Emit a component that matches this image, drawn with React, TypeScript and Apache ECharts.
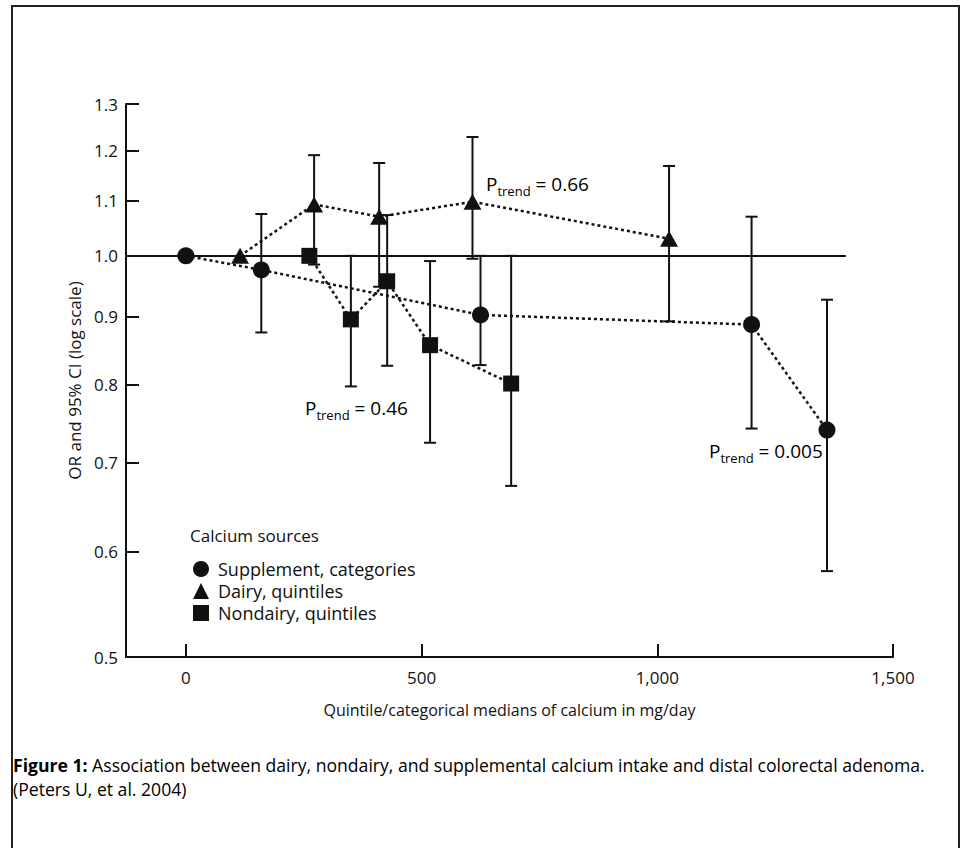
import React, { useEffect, useRef } from "react";
import * as echarts from "echarts";

const FONT = "'Open Sans', 'DejaVu Sans', sans-serif";
const INK = "#111";

// Axis ticks
const X_TICKS = [0, 500, 1000, 1500];
const Y_TICKS = [0.5, 0.6, 0.7, 0.8, 0.9, 1.0, 1.1, 1.2, 1.3];
const X_MIN = -127;
const X_MAX = 1500;
const REF_OR = 1.0;
const REF_LINE_END = 1400;

// Supplement, categories
const SUPP_X = [0, 160, 625, 1200, 1360];
const SUPP_OR = [1.0, 0.976, 0.903, 0.888, 0.74];
const SUPP_LO = [null, 0.876, 0.828, 0.742, 0.58];
const SUPP_HI = [null, 1.075, 1.0, 1.07, 0.927];

// Dairy, quintiles
const DAIRY_X = [115, 272, 410, 608, 1025];
const DAIRY_OR = [1.0, 1.093, 1.07, 1.098, 1.03];
const DAIRY_LO = [null, 0.985, 0.948, 0.995, 0.893];
const DAIRY_HI = [null, 1.19, 1.174, 1.228, 1.168];

// Nondairy, quintiles
const NOND_X = [262, 350, 427, 518, 690];
const NOND_OR = [1.0, 0.896, 0.957, 0.857, 0.802];
const NOND_LO = [null, 0.798, 0.827, 0.724, 0.672];
const NOND_HI = [null, 1.0, 1.073, 0.991, 1.0];

const SERIES_NAMES = ["Supplement, categories", "Dairy, quintiles", "Nondairy, quintiles"];
const SYMBOLS = ["circle", "triangle", "rect"];
const SYMBOL_SIZES: any[] = [17, [18, 16], 16];

const P_TRENDS = ["0.005", "0.66", "0.46"];

const lg = (v: number) => Math.log10(v);

function pointData(xs: number[], ors: number[]) {
  return xs.map((x, i) => [x, lg(ors[i])]);
}
function barData(xs: number[], lo: (number | null)[], hi: (number | null)[]) {
  const out: number[][] = [];
  xs.forEach((x, i) => {
    if (lo[i] != null && hi[i] != null) out.push([x, lg(lo[i] as number), lg(hi[i] as number)]);
  });
  return out;
}

function errorSeries(data: number[][]) {
  return {
    type: "custom",
    z: 1,
    silent: true,
    data,
    encode: { x: 0, y: [1, 2] },
    renderItem: (_p: any, api: any) => {
      const x = api.value(0);
      const a = api.coord([x, api.value(1)]);
      const b = api.coord([x, api.value(2)]);
      const hw = 6;
      const st = { stroke: INK, lineWidth: 2 };
      return {
        type: "group",
        children: [
          { type: "line", shape: { x1: a[0], y1: a[1], x2: b[0], y2: b[1] }, style: st },
          { type: "line", shape: { x1: a[0] - hw, y1: a[1], x2: a[0] + hw, y2: a[1] }, style: st },
          { type: "line", shape: { x1: b[0] - hw, y1: b[1], x2: b[0] + hw, y2: b[1] }, style: st },
        ],
      };
    },
  };
}

function lineSeries(idx: number, data: number[][], extra: any = {}) {
  return {
    type: "line",
    name: SERIES_NAMES[idx],
    data,
    z: 3,
    symbol: SYMBOLS[idx],
    symbolSize: SYMBOL_SIZES[idx],
    itemStyle: { color: INK },
    lineStyle: { color: INK, width: 2.5, type: [3, 3] },
    ...extra,
  };
}

function pText(val: string) {
  return `{p|P}{s|trend}{t| = ${val}}`;
}
const pRich = {
  p: { fontSize: 19, fontFamily: FONT, color: INK, lineHeight: 28 },
  s: { fontSize: 13, fontFamily: FONT, color: INK, lineHeight: 14, verticalAlign: "bottom" },
  t: { fontSize: 19, fontFamily: FONT, color: INK, lineHeight: 28 },
};

export default function App() {
  const ref = useRef<HTMLDivElement>(null);
  useEffect(() => {
    const chart = echarts.init(ref.current!, null, { renderer: "svg" });
    const option: any = {
      animation: false,
      backgroundColor: "#fff",
      textStyle: { fontFamily: FONT, color: INK },
      grid: { left: 126, right: 69, top: 104, bottom: 191, containLabel: false },
      xAxis: {
        type: "value",
        min: X_MIN,
        max: X_MAX,
        name: "Quintile/categorical medians of calcium in mg/day",
        nameLocation: "middle",
        nameGap: 45,
        nameTextStyle: { fontSize: 16, color: INK, fontFamily: FONT },
        axisLine: { show: true, onZero: false, lineStyle: { color: INK, width: 2 } },
        axisTick: { show: true, inside: true, length: 13, lineStyle: { color: INK, width: 2 }, customValues: X_TICKS },
        axisLabel: {
          customValues: X_TICKS,
          margin: 12,
          fontSize: 17,
          color: INK,
          fontFamily: FONT,
          formatter: (v: number) => Math.round(v).toLocaleString("en-US"),
        },
        splitLine: { show: false },
      },
      yAxis: {
        type: "value",
        min: lg(Y_TICKS[0]),
        max: lg(Y_TICKS[Y_TICKS.length - 1]),
        name: "OR and 95% CI (log scale)",
        nameLocation: "middle",
        nameGap: 41,
        nameRotate: 90,
        nameTextStyle: { fontSize: 17, color: INK, fontFamily: FONT },
        axisLine: { show: true, onZero: false, lineStyle: { color: INK, width: 2 } },
        axisTick: { show: true, inside: true, length: 13, lineStyle: { color: INK, width: 2 }, customValues: Y_TICKS.map(lg) },
        axisLabel: {
          customValues: Y_TICKS.map(lg),
          margin: 8,
          fontSize: 17,
          color: INK,
          fontFamily: FONT,
          formatter: (v: number) => Math.pow(10, v).toFixed(1),
        },
        splitLine: { show: false },
      },
      legend: {
        show: true,
        orient: "vertical",
        left: 188,
        top: 555,
        itemWidth: 16,
        itemHeight: 16,
        itemGap: 4,
        selectedMode: false,
        textStyle: { fontSize: 18, color: INK, fontFamily: FONT, padding: [0, 0, 0, 4] },
        data: SERIES_NAMES.map((n, i) => ({ name: n, icon: SYMBOLS[i] })),
      },
      series: [
        errorSeries(barData(SUPP_X, SUPP_LO, SUPP_HI)),
        errorSeries(barData(DAIRY_X, DAIRY_LO, DAIRY_HI)),
        errorSeries(barData(NOND_X, NOND_LO, NOND_HI)),
        lineSeries(0, pointData(SUPP_X, SUPP_OR), {
          markLine: {
            silent: true,
            symbol: "none",
            label: { show: false },
            lineStyle: { color: INK, width: 2, type: "solid" },
            data: [[{ coord: [X_MIN, lg(REF_OR)] }, { coord: [REF_LINE_END, lg(REF_OR)] }]],
          },
        }),
        lineSeries(1, pointData(DAIRY_X, DAIRY_OR)),
        lineSeries(2, pointData(NOND_X, NOND_OR)),
      ],
      graphic: [
        {
          type: "rect",
          silent: true,
          shape: { x: 12, y: 6, width: 947, height: 900 },
          style: { fill: "none", stroke: "#222", lineWidth: 2 },
        },
        {
          type: "text",
          left: 190,
          top: 527,
          style: { text: "Calcium sources", fontSize: 17, fontFamily: FONT, fill: INK },
        },
        { type: "text", left: 709, top: 441, style: { text: pText(P_TRENDS[0]), rich: pRich } },
        { type: "text", left: 486, top: 174, style: { text: pText(P_TRENDS[1]), rich: pRich } },
        { type: "text", left: 305, top: 398, style: { text: pText(P_TRENDS[2]), rich: pRich } },
        {
          type: "text",
          left: 13,
          top: 756,
          style: {
            text:
              "{b|Figure 1:}{n| Association between dairy, nondairy, and supplemental calcium intake and distal colorectal adenoma.}\n{n|(Peters U, et al. 2004)}",
            rich: {
              b: { fontSize: 17.6, fontWeight: "bold", fontFamily: FONT, color: INK, lineHeight: 24 },
              n: { fontSize: 17.6, fontFamily: FONT, color: INK, lineHeight: 24 },
            },
          },
        },
      ],
    };
    chart.setOption(option);
    return () => chart.dispose();
  }, []);
  return (
    <div
      ref={ref}
      style={{ position: "absolute", left: 0, top: 0, width: 962, height: 848, background: "#fff" }}
    />
  );
}
